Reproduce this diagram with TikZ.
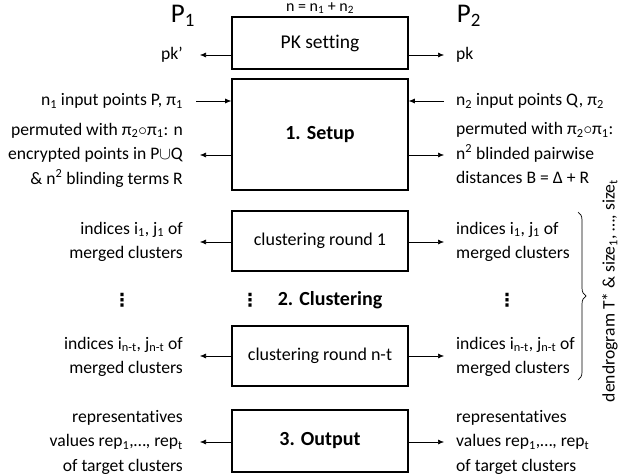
\documentclass[tikz,border=0pt]{standalone}
\usepackage{fontspec}
\setmainfont{Carlito}[Ligatures=NoCommon]
\newfontfamily\dvfont{DejaVu Sans}
\usetikzlibrary{arrows.meta,decorations.pathreplacing}
\newcommand\sbs[1]{\textsubscript{#1}}
\newcommand\sps[1]{\textsuperscript{#1}}
\newcommand\vdt{{\dvfont\bfseries\fontsize{18}{20}\selectfont ⋮}}
\begin{document}
\begin{tikzpicture}[x=1pt,y=-1pt,
  box/.style={draw,line width=1.6pt,minimum width=176pt,inner sep=0pt},
  arr/.style={-{Latex[length=6pt,width=5pt]},line width=0.6pt},
  lab/.style={font=\fontsize{17.6}{24.5}\selectfont,inner sep=0pt},
  llab/.style={lab,anchor=east,align=right},
  rlab/.style={lab,anchor=west,align=left},
  ttl/.style={font=\fontsize{20}{24}\selectfont\bfseries}]
\useasboundingbox (0,0) rectangle (621,476);
% parties
\node[font=\fontsize{27}{30}\selectfont] (p1) at (183,16) {P\sbs{1}};
\node[font=\fontsize{27}{30}\selectfont] (p2) at (469,16) {P\sbs{2}};
\node[font=\fontsize{16}{18}\selectfont] (nn) at (320,8) {n = n\sbs{1} + n\sbs{2}};
% boxes
\node[box,minimum height=52pt,font=\fontsize{19.5}{22}\selectfont] (pk) at (320,43) {PK setting};
\node[box,minimum height=111pt,ttl] (setup) at (320,134.5) {1. Setup};
\node[draw=gray,double=white,double distance=1.2pt,line width=0.8pt,minimum width=205pt,minimum height=197pt] (clu) at (319.5,298.5) {};
\node[box,minimum height=60pt,font=\fontsize{18}{20}\selectfont] (r1) at (320,241) {clustering round 1};
\node[box,minimum height=60pt,font=\fontsize{18}{20}\selectfont] (rn) at (320,356) {clustering round n-t};
\node[ttl] (cl) at (330,300) {2. Clustering};
\node[inner sep=0pt] (vd) at (250,300) {\vdt};
\node[box,minimum height=62pt,ttl] (out) at (320,441) {3. Output};
% left labels
\node[llab] (lpk) at (183,55) {pk’};
\node[llab] (lin) at (183,101) {n\sbs{1} input points P, π\sbs{1}};
\node[llab] (lsu) at (183,155) {permuted with π\sbs{2}$\circ$π\sbs{1}: n\\encrypted points in P$\cup$Q\\\& n\sps{2} blinding terms R};
\node[llab] (lr1) at (183,242) {indices i\sbs{1}, j\sbs{1} of\\merged clusters};
\node[inner sep=0pt] (lvd) at (122,300) {\vdt};
\node[llab] (lrn) at (183,357) {indices i\sbs{n-t}, j\sbs{n-t} of\\merged clusters};
\node[llab] (lout) at (183,442) {representatives\\values rep\sbs{1},…, rep\sbs{t}\\of target clusters};
% right labels
\node[rlab] (rpk) at (456,55) {pk};
\node[rlab] (rin) at (456,101) {n\sbs{2} input points Q, π\sbs{2}};
\node[rlab] (rsu) at (456,153) {permuted with π\sbs{2}$\circ$π\sbs{1}:\\n\sps{2} blinded pairwise\\distances B = Δ + R};
\node[rlab] (rr1) at (456,242) {indices i\sbs{1}, j\sbs{1} of\\merged clusters};
\node[inner sep=0pt] (rvd) at (507,300) {\vdt};
\node[rlab] (rrn) at (456,357) {indices i\sbs{n-t}, j\sbs{n-t} of\\merged clusters};
\node[rlab] (rout) at (456,442) {representatives\\values rep\sbs{1},…, rep\sbs{t}\\of target clusters};
% arrow end coordinates
\coordinate (apk) at (200,55);
\coordinate (bpk) at (444,55);
\coordinate (ain) at (196,101);
\coordinate (bin) at (444,101);
\coordinate (asu) at (200,155);
\coordinate (bsu) at (444,155);
\coordinate (ar1) at (200,242);
\coordinate (br1) at (444,242);
\coordinate (arn) at (200,356);
\coordinate (brn) at (444,356);
\coordinate (aout) at (200,442);
\coordinate (bout) at (444,442);
% arrows
\draw[arr] (apk -| pk.west) -- (apk);
\draw[arr] (bpk -| pk.east) -- (bpk);
\draw[arr] (ain) -- (ain -| setup.west);
\draw[arr] (bin) -- (bin -| setup.east);
\draw[arr] (asu -| setup.west) -- (asu);
\draw[arr] (bsu -| setup.east) -- (bsu);
\draw[arr] (ar1 -| r1.west) -- (ar1);
\draw[arr] (br1 -| r1.east) -- (br1);
\draw[arr] (arn -| rn.west) -- (arn);
\draw[arr] (brn -| rn.east) -- (brn);
\draw[arr] (aout -| out.west) -- (aout);
\draw[arr] (bout -| out.east) -- (bout);
% brace
\coordinate (bt) at (578,212);
\coordinate (bb) at (578,380);
\draw[line width=0.7pt,decorate,decoration={brace,amplitude=8pt}] (bt) -- (bb);
\node[lab,rotate=90] (dend) at (610,291) {dendrogram T* \& size\sbs{1}, …, size\sbs{t}};
\end{tikzpicture}
\end{document}
